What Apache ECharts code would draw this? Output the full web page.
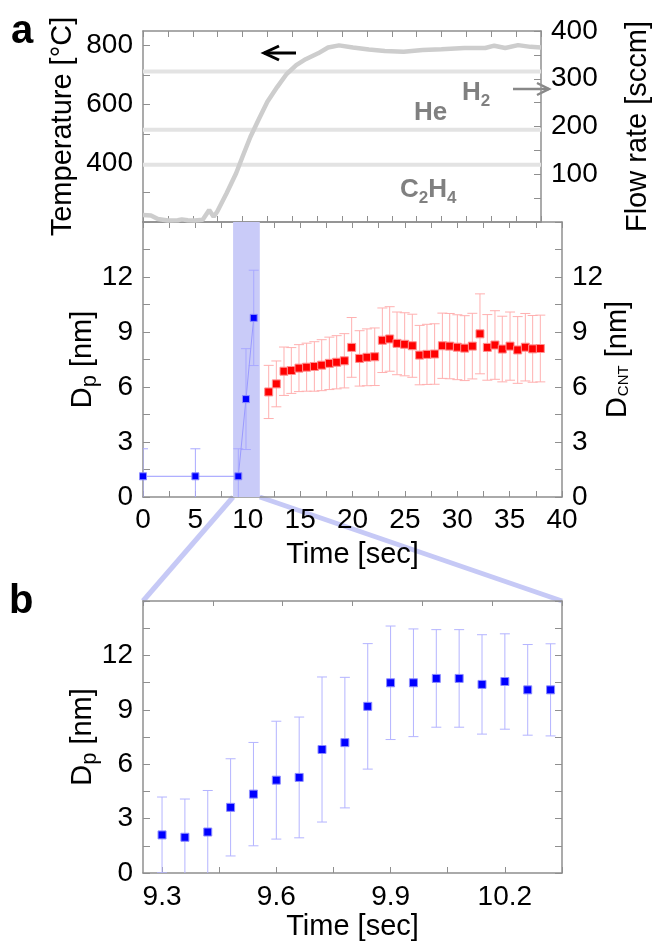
<!DOCTYPE html>
<html><head><meta charset="utf-8">
<script src="https://cdn.jsdelivr.net/npm/echarts@6/dist/echarts.min.js"></script>
<style>html,body{margin:0;padding:0;background:#fff}#c{width:660px;height:942px}</style>
</head><body><div id="c"></div>
<script>
// ---------- data ----------
const tempTime = [0, 0.8, 1.5, 2.5, 3.5, 3.9, 4.5, 5.2, 6.0, 6.65, 7.1, 7.45, 8.4, 9.36, 10.0, 10.8, 11.6, 12.5, 13.5, 14.4, 15.4, 16.35, 17.6, 18.6, 19.7, 21.1, 22.7, 24.3, 26.2, 28.1, 30.0, 32.3, 34.4, 35.3, 36.4, 37.7, 38.95, 40];
const tempC = [224, 222, 210, 205, 206, 209, 206, 205, 208, 241, 218, 235, 298, 366, 422, 490, 547, 609, 660, 702, 734, 754, 774, 794, 801, 794, 787, 782, 779, 785, 788, 792, 792, 800, 792, 802, 796, 794];
const gasNames = ['H2', 'He', 'C2H4'];
const gasFlow = [315, 193, 120];
const flowTimeSpan = [0, 40];

const blueTime = [0, 5, 9.1, 9.83, 10.57];
const blueDp = [1.13, 1.13, 1.13, 5.34, 9.77];
const blueErr = [1.5, 1.5, 1.5, 2.75, 2.6];

const redTime = [12.00, 12.73, 13.46, 14.16, 14.89, 15.62, 16.36, 17.06, 17.79, 18.49, 19.22, 19.92, 20.68, 21.38, 22.12, 22.85, 23.55, 24.25, 24.98, 25.71, 26.41, 27.11, 27.84, 28.58, 29.28, 30.01, 30.71, 31.44, 32.17, 32.87, 33.60, 34.30, 35.04, 35.77, 36.50, 37.20, 37.93];
const redDcnt = [5.73, 6.17, 6.86, 6.90, 7.03, 7.08, 7.12, 7.19, 7.29, 7.35, 7.43, 8.16, 7.56, 7.62, 7.65, 8.55, 8.62, 8.38, 8.33, 8.25, 7.74, 7.78, 7.80, 8.25, 8.23, 8.17, 8.12, 8.23, 8.90, 8.16, 8.29, 8.07, 8.23, 8.02, 8.17, 8.08, 8.10];
const redErr = [1.45, 1.25, 1.32, 1.25, 1.28, 1.31, 1.35, 1.39, 1.43, 1.45, 1.48, 1.63, 1.51, 1.55, 1.57, 1.76, 1.76, 1.71, 1.72, 1.72, 1.62, 1.64, 1.65, 1.78, 1.78, 1.77, 1.77, 1.79, 2.18, 1.79, 1.87, 1.79, 1.86, 1.82, 1.84, 1.82, 1.82];

const zoomTime = [9.30, 9.36, 9.42, 9.48, 9.54, 9.60, 9.66, 9.72, 9.78, 9.84, 9.90, 9.96, 10.02, 10.08, 10.14, 10.20, 10.26, 10.32];
const zoomDp = [2.10, 1.97, 2.26, 3.62, 4.35, 5.12, 5.27, 6.81, 7.19, 9.19, 10.49, 10.49, 10.73, 10.73, 10.40, 10.56, 10.10, 10.10];
const zoomErr = [2.09, 2.11, 2.29, 2.68, 2.85, 3.25, 3.33, 4.00, 3.60, 3.46, 3.13, 2.97, 2.69, 2.69, 2.74, 2.63, 2.50, 2.54];
const zoomWindow = [8.6, 11.15];

// tick labels
const timeLabels = [0, 5, 10, 15, 20, 25, 30, 35, 40];
const dLabels = [0, 3, 6, 9, 12];
const tempLabels = [400, 600, 800];
const flowLabels = [100, 200, 300, 400];
const zoomLabels = [9.3, 9.6, 9.9, 10.2];

// ---------- helpers ----------
const FONT = "'Liberation Sans', Arial, Helvetica, sans-serif";
const AXC = '#8f8f8f';
function range(a, b, step) { const r = []; for (let i = 0; a + i * step <= b + 1e-9; i++) r.push(+(a + i * step).toFixed(4)); return r; }
const zip = (...arrs) => arrs[0].map((_, i) => arrs.map(a => a[i]));

function axisCommon(ticks, labels, tickLen, labelMargin) {
  return {
    nameMoveOverlap: false,
    axisLine: { show: true, onZero: false, lineStyle: { color: AXC, width: 1.5 } },
    axisTick: { show: true, inside: true, length: tickLen, customValues: ticks, lineStyle: { color: AXC, width: 1 } },
    axisLabel: labels ? { show: true, customValues: labels, margin: labelMargin, color: '#000', fontFamily: FONT, fontSize: 28 } : { show: false },
    splitLine: { show: false }
  };
}

function errRender(color) {
  return function (params, api) {
    const x = api.value(0), y = api.value(1), e = api.value(2);
    const top = api.coord([x, y + e]), bot = api.coord([x, y - e]);
    const hw = 5;
    const st = { stroke: color, lineWidth: 1 };
    return {
      type: 'group', children: [
        { type: 'line', shape: { x1: top[0], y1: top[1], x2: bot[0], y2: bot[1] }, style: st },
        { type: 'line', shape: { x1: top[0] - hw, y1: top[1], x2: top[0] + hw, y2: top[1] }, style: st },
        { type: 'line', shape: { x1: bot[0] - hw, y1: bot[1], x2: bot[0] + hw, y2: bot[1] }, style: st }
      ]
    };
  };
}

const timeTicks = range(0, 40, 2.5);
const dTicks = range(0, 15, 1.5);
const zoomTicks = range(9.3, 10.35, 0.15);
const zoomTopTicks = range(0, 6, 1).map(k => 9.25 + k * 1.1 / 6);

const dName = {
  rich: {
    m: { fontSize: 29, fontFamily: FONT, lineHeight: 29, verticalAlign: 'top', color: '#000' },
    s: { fontSize: 22, fontFamily: FONT, lineHeight: 22, padding: [11, 0, 0, 0], verticalAlign: 'top', color: '#000' }
  }
};
const cntName = {
  rich: {
    m: { fontSize: 29, fontFamily: FONT, lineHeight: 29, verticalAlign: 'top', color: '#000' },
    c: { fontSize: 15, fontFamily: FONT, lineHeight: 15, padding: [13, 0, 0, 1], verticalAlign: 'top', color: '#000' }
  }
};
const plainName = { fontSize: 29, fontFamily: FONT, color: '#000' };

const chart = echarts.init(document.getElementById('c'), null, { renderer: 'canvas' });

const option = {
  backgroundColor: '#fff',
  animation: false,
  grid: [
    { left: 143, right: 98, top: 31, height: 191 },
    { left: 143, right: 98, top: 222, height: 275 },
    { left: 143, right: 98, top: 601, height: 273 }
  ],
  xAxis: [
    Object.assign({ type: 'value', gridIndex: 0, position: 'bottom', min: 0, max: 40 }, axisCommon(timeTicks, null, 6)),
    Object.assign({ type: 'value', gridIndex: 0, position: 'top', min: 0, max: 40 }, axisCommon(timeTicks, null, 6)),
    Object.assign({ type: 'value', gridIndex: 1, position: 'bottom', min: 0, max: 40,
      name: 'Time [sec]', nameLocation: 'middle', nameGap: 43, nameTextStyle: plainName }, axisCommon(timeTicks, timeLabels, 6, 9)),
    Object.assign({ type: 'value', gridIndex: 1, position: 'top', min: 0, max: 40 }, axisCommon(timeTicks, null, 6)),
    Object.assign({ type: 'value', gridIndex: 2, position: 'bottom', min: 9.25, max: 10.35,
      name: 'Time [sec]', nameLocation: 'middle', nameGap: 39, nameTextStyle: plainName }, axisCommon(zoomTicks, zoomLabels, 6, 10)),
    Object.assign({ type: 'value', gridIndex: 2, position: 'top', min: 9.25, max: 10.35 }, axisCommon(zoomTopTicks, null, 5))
  ],
  yAxis: [
    Object.assign({ type: 'value', gridIndex: 0, position: 'left', min: 200, max: 850,
      name: 'Temperature [°C]', nameLocation: 'middle', nameGap: 66, nameTextStyle: plainName }, axisCommon(range(200, 800, 100), tempLabels, 7, 10)),
    Object.assign({ type: 'value', gridIndex: 0, position: 'right', min: 0, max: 400,
      name: 'Flow rate [sccm]', nameLocation: 'middle', nameGap: 82, nameTextStyle: plainName }, axisCommon(range(0, 400, 50), flowLabels, 7, 10)),
    Object.assign({ type: 'value', gridIndex: 1, position: 'left', min: 0, max: 15,
      name: '{m|D}{s|p}{m| [nm]}', nameLocation: 'middle', nameGap: 46, nameTextStyle: dName }, axisCommon(dTicks, dLabels, 7, 10)),
    Object.assign({ type: 'value', gridIndex: 1, position: 'right', min: 0, max: 15,
      name: '{m|D}{c|CNT}{m| [nm]}', nameLocation: 'middle', nameGap: 41, nameTextStyle: cntName }, axisCommon(dTicks, dLabels, 7, 10)),
    Object.assign({ type: 'value', gridIndex: 2, position: 'left', min: 0, max: 15,
      name: '{m|D}{s|p}{m| [nm]}', nameLocation: 'middle', nameGap: 46, nameTextStyle: dName }, axisCommon(dTicks, dLabels, 7, 10)),
    Object.assign({ type: 'value', gridIndex: 2, position: 'right', min: 0, max: 15 }, axisCommon(dTicks, null, 7))
  ],
  series: [
    ...gasNames.map((g, i) => ({
      name: g, type: 'line', xAxisIndex: 0, yAxisIndex: 1, symbol: 'none', z: 2,
      data: flowTimeSpan.map(t => [t, gasFlow[i]]),
      lineStyle: { color: '#e3e3e3', width: 4 }
    })),
    {
      name: 'Temperature', type: 'line', xAxisIndex: 0, yAxisIndex: 0, symbol: 'none', z: 3,
      data: zip(tempTime, tempC), lineStyle: { color: '#cdcdcd', width: 4.5 }
    },
    {
      name: 'window', type: 'custom', xAxisIndex: 2, yAxisIndex: 2, z: 1, clip: true,
      data: [zoomWindow],
      renderItem: function (params, api) {
        const a = api.coord([api.value(0), 15]), b = api.coord([api.value(1), 0]);
        return { type: 'rect', shape: { x: a[0], y: a[1], width: b[0] - a[0], height: b[1] - a[1] }, style: { fill: '#c9cbf8' } };
      }
    },
    {
      name: 'blueErr', type: 'custom', xAxisIndex: 2, yAxisIndex: 2, z: 3, clip: true,
      data: zip(blueTime, blueDp, blueErr), renderItem: errRender('#a9a9ff')
    },
    {
      name: 'Dp', type: 'line', xAxisIndex: 2, yAxisIndex: 2, z: 5,
      data: zip(blueTime, blueDp), symbol: 'rect', symbolSize: 7,
      itemStyle: { color: '#0000ff', borderColor: '#8c8cff', borderWidth: 1 },
      lineStyle: { color: '#9a9aff', width: 1 }
    },
    {
      name: 'redErr', type: 'custom', xAxisIndex: 2, yAxisIndex: 3, z: 3, clip: true,
      data: zip(redTime, redDcnt, redErr), renderItem: errRender('#ffb0b0')
    },
    {
      name: 'Dcnt', type: 'scatter', xAxisIndex: 2, yAxisIndex: 3, z: 5,
      data: zip(redTime, redDcnt), symbol: 'rect', symbolSize: 8,
      itemStyle: { color: '#ff0000', borderColor: '#ff9090', borderWidth: 1, opacity: 1 }
    },
    {
      name: 'zoomErr', type: 'custom', xAxisIndex: 4, yAxisIndex: 4, z: 3, clip: true,
      data: zip(zoomTime, zoomDp, zoomErr), renderItem: errRender('#b4b4ff')
    },
    {
      name: 'zoomDp', type: 'scatter', xAxisIndex: 4, yAxisIndex: 4, z: 5,
      data: zip(zoomTime, zoomDp), symbol: 'rect', symbolSize: 8,
      itemStyle: { color: '#0000ff', borderColor: '#8c8cff', borderWidth: 1, opacity: 1 }
    }
  ]
};
chart.setOption(option);

// connectors + annotations
const pL = chart.convertToPixel({ xAxisIndex: 2, yAxisIndex: 2 }, [zoomWindow[0], 0]);
const pR = chart.convertToPixel({ xAxisIndex: 2, yAxisIndex: 2 }, [zoomWindow[1], 0]);
const qL = chart.convertToPixel({ xAxisIndex: 4, yAxisIndex: 4 }, [9.25, 15]);
const qR = chart.convertToPixel({ xAxisIndex: 4, yAxisIndex: 4 }, [10.35, 15]);
const conn = { stroke: '#c6c9f6', lineWidth: 5 };
const gasRich = {
  m: { fontSize: 26, fontFamily: FONT, fontWeight: 'bold', fill: '#808080', lineHeight: 26, verticalAlign: 'top' },
  s: { fontSize: 17, fontFamily: FONT, fontWeight: 'bold', fill: '#808080', lineHeight: 17, padding: [13, 0, 0, 0], verticalAlign: 'top' }
};
chart.setOption({
  graphic: [
    { type: 'line', z: 0, shape: { x1: pL[0], y1: pL[1], x2: qL[0], y2: qL[1] }, style: conn },
    { type: 'line', z: 0, shape: { x1: pR[0], y1: pR[1], x2: qR[0], y2: qR[1] }, style: conn },
    { type: 'polyline', shape: { points: [[296, 53], [264, 53]] }, style: { stroke: '#000', lineWidth: 3, fill: null } },
    { type: 'polyline', shape: { points: [[279, 46], [264, 53], [279, 60]] }, style: { stroke: '#000', lineWidth: 3, fill: null } },
    { type: 'polyline', shape: { points: [[513, 89], [549, 89]] }, style: { stroke: '#888', lineWidth: 2.5, fill: null } },
    { type: 'polyline', shape: { points: [[537, 83], [549, 89], [537, 95]] }, style: { stroke: '#888', lineWidth: 2.5, fill: null } },
    { type: 'text', x: 462, y: 80, style: { text: '{m|H}{s|2}', rich: gasRich } },
    { type: 'text', x: 414, y: 100, style: { text: '{m|He}', rich: gasRich } },
    { type: 'text', x: 400, y: 177, style: { text: '{m|C}{s|2}{m|H}{s|4}', rich: gasRich } },
    { type: 'text', x: 11, y: 12, style: { text: 'a', fontSize: 40, fontFamily: FONT, fontWeight: 'bold', fill: '#000' } },
    { type: 'text', x: 9, y: 582, style: { text: 'b', fontSize: 40, fontFamily: FONT, fontWeight: 'bold', fill: '#000' } }
  ]
});
</script></body></html>
